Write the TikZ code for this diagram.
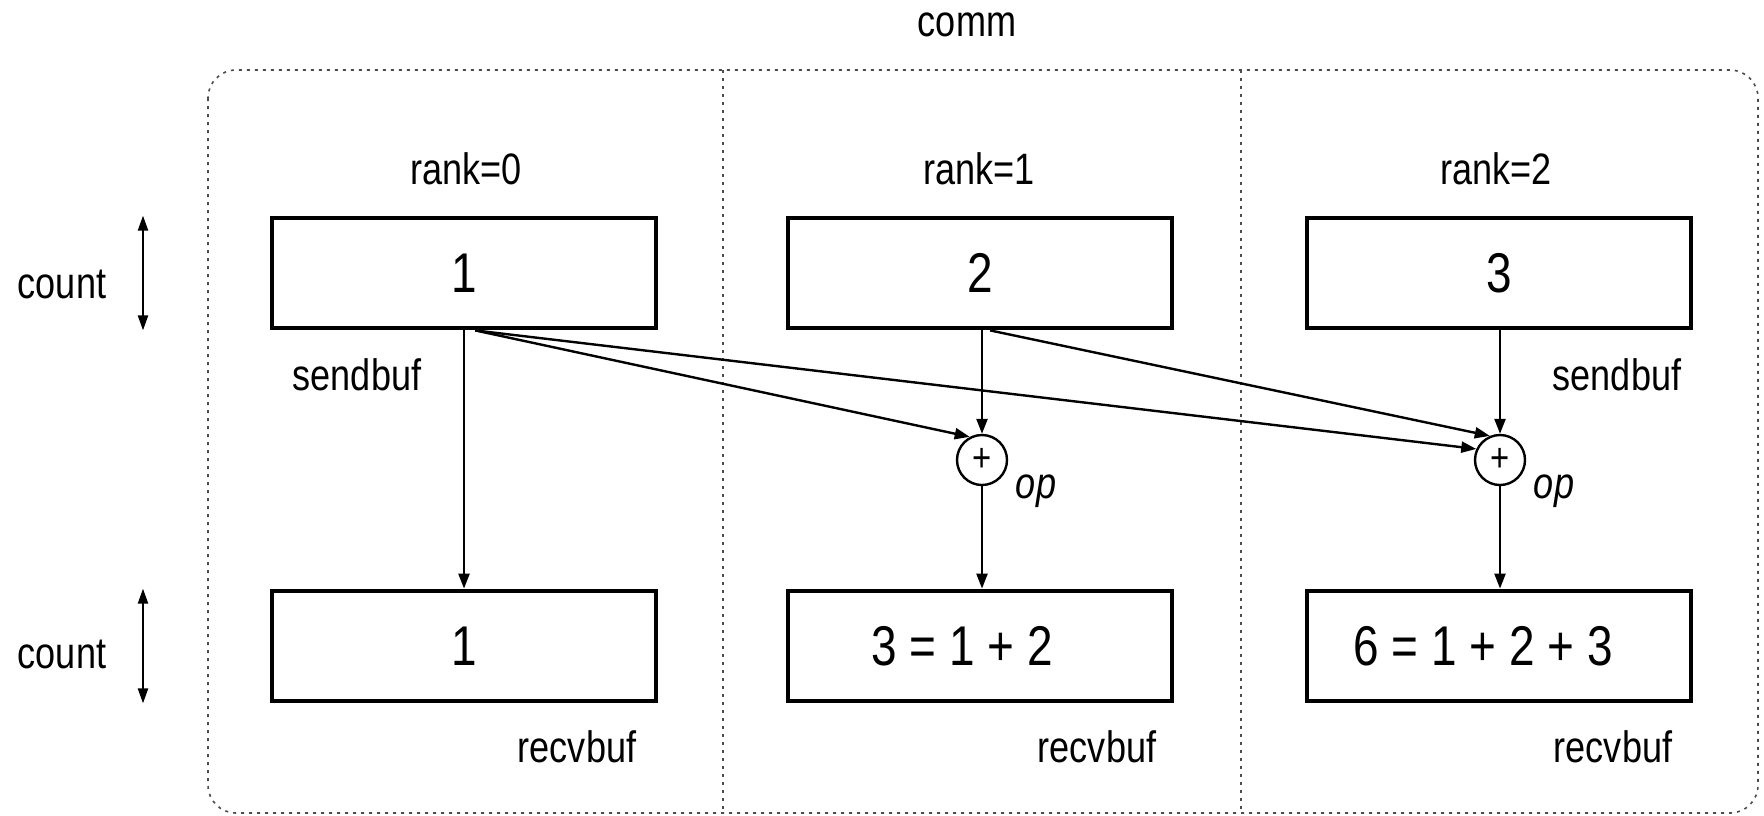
\documentclass[tikz,border=0pt]{standalone}
\usepackage{fontspec}
\setmainfont{Liberation Sans}[FakeStretch=0.82]
\usetikzlibrary{arrows.meta}
\begin{document}
\begin{tikzpicture}[x=0.5pt,y=-0.5pt,
  lbl/.style={font=\fontsize{22}{26}\selectfont, inner sep=0pt, anchor=base},
  buf/.style={draw, line width=2.4pt, minimum width=192pt, minimum height=55pt,
    inner sep=0pt, font=\fontsize{28}{32}\selectfont},
  opnode/.style={draw, circle, line width=1.2pt, minimum size=25pt, inner sep=0pt,
    font=\fontsize{20}{24}\selectfont},
  flow/.style={line width=1.2pt, -{Triangle[length=7.5pt,width=5.5pt]}},
  span/.style={line width=1.1pt, {Triangle[length=7.5pt,width=5pt]}-{Triangle[length=7.5pt,width=5pt]}},
  frame/.style={black!70, line width=0.8pt, dash pattern=on 1.5pt off 2.5pt}]

\useasboundingbox (0,0) rectangle (1764,815);

% communicator frame and process columns
\node[lbl] (comm) at (967,36) {comm};
\draw[frame, rounded corners=14pt] (208,70) rectangle (1758,813);
\draw[frame] (723,70) -- (723,813);
\draw[frame] (1241,70) -- (1241,813);

% rank headers
\node[lbl] (rk0) at (466,184) {rank=0};
\node[lbl] (rk1) at (979,184) {rank=1};
\node[lbl] (rk2) at (1496,184) {rank=2};

% send buffers
\node[buf] (s0) at (464,273) {1};
\node[buf] (s1) at (980,273) {2};
\node[buf] (s2) at (1499,273) {3};

% receive buffers (sums sit a little left of centre)
\node[buf] (r0) at (464,646) {1};
\node[buf] (r1) at (980,646) {3 = 1 + 2\kern18pt};
\node[buf] (r2) at (1499,646) {6 = 1 + 2 + 3\kern16pt};

% reduction operators
\node[opnode] (op1) at (982,460) {+};
\node[opnode] (op2) at (1500,460) {+};
\node[lbl, font=\fontsize{22}{26}\selectfont\itshape] (opl1) at (1036,498) {op};
\node[lbl, font=\fontsize{22}{26}\selectfont\itshape] (opl2) at (1554,498) {op};

% buffer labels
\node[lbl] (sb0) at (357,390) {sendbuf};
\node[lbl] (sb2) at (1617,390) {sendbuf};
\node[lbl] (rb0) at (577,762) {recvbuf};
\node[lbl] (rb1) at (1097,762) {recvbuf};
\node[lbl] (rb2) at (1613,762) {recvbuf};

% count extents
\coordinate (cx) at (143,0);
\node[lbl] (c0) at (62,298) {count};
\node[lbl] (c1) at (62,668) {count};
\draw[span] (cx |- s0.north) -- (cx |- s0.south);
\draw[span] (cx |- r0.north) -- (cx |- r0.south);

% data flow
\draw[flow] (s0.south) -- (r0.north);
\draw[flow] (op1 |- s1.south) -- (op1.north);
\draw[flow] (op1.south) -- (op1 |- r1.north);
\draw[flow] (op2 |- s2.south) -- (op2.north);
\draw[flow] (op2.south) -- (op2 |- r2.north);
\draw[flow] (s0.281) -- (op1.118);
\draw[flow] (s0.281) -- (op2.155);
\draw[flow] (s1.280) -- (op2.113);
\end{tikzpicture}
\end{document}
